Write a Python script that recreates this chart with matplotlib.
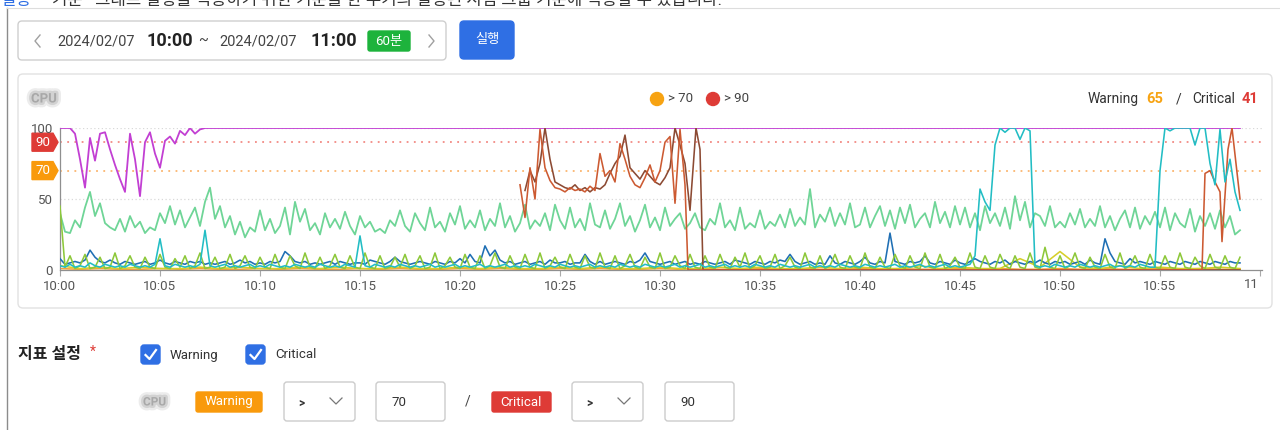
import numpy as np
import matplotlib
matplotlib.use("Agg")
import matplotlib.pyplot as plt
import matplotlib.patheffects as pe
from matplotlib.patches import FancyBboxPatch, Polygon, Circle
from matplotlib.transforms import Bbox

plt.rcParams['font.family'] = ['Roboto', 'Noto Sans CJK KR', 'DejaVu Sans']

W, H = 1280, 430

# CPU usage per host, 15 s samples starting 10:00:00
green = [
    40, 27, 26, 35, 30, 44, 55, 38,
    47, 33, 30, 28, 36, 27, 38, 30,
    34, 26, 30, 28, 40, 33, 45, 32,
    42, 30, 37, 44, 31, 48, 58, 36,
    45, 30, 38, 25, 34, 23, 30, 27,
    42, 28, 36, 26, 31, 44, 25, 48,
    34, 43, 28, 33, 25, 40, 30, 36,
    29, 41, 31, 25, 38, 30, 34, 27,
    29, 26, 35, 31, 42, 31, 27, 40,
    33, 28, 44, 30, 34, 27, 40, 32,
    45, 29, 35, 30, 42, 28, 36, 31,
    47, 30, 38, 27, 33, 46, 29, 35,
    31, 40, 28, 46, 35, 29, 44, 30,
    36, 28, 47, 32, 30, 42, 29, 36,
    47, 31, 38, 27, 35, 46, 30, 37,
    28, 44, 31, 36, 40, 29, 33, 40,
    30, 28, 36, 32, 47, 30, 35, 28,
    44, 29, 33, 30, 42, 29, 34, 31,
    39, 30, 43, 31, 37, 32, 57, 30,
    39, 34, 44, 31, 40, 32, 47, 30,
    32, 44, 30, 38, 45, 31, 42, 29,
    44, 33, 46, 30, 36, 40, 30, 48,
    33, 41, 30, 45, 32, 44, 30, 40,
    28, 45, 33, 40, 31, 44, 29, 52,
    35, 48, 30, 40, 38, 31, 45, 30,
    34, 30, 40, 32, 43, 30, 36, 31,
    45, 30, 38, 28, 36, 42, 30, 44,
    29, 38, 32, 41, 30, 44, 28, 40,
    33, 30, 43, 27, 38, 31, 40, 29,
    42, 30, 38, 25, 28,
]

blue = [
    8, 4, 5, 6, 5, 7, 14, 9,
    6, 5, 7, 5, 4, 6, 5, 4,
    5, 6, 4, 5, 7, 5, 4, 6,
    5, 4, 6, 5, 6, 4, 5, 4,
    5, 6, 4, 5, 7, 5, 6, 4,
    5, 4, 6, 5, 6, 13, 10, 6,
    5, 6, 4, 5, 4, 5, 6, 4,
    6, 5, 4, 5, 5, 4, 7, 6,
    5, 4, 6, 9, 6, 5, 4, 5,
    6, 5, 4, 6, 5, 4, 6, 5,
    8, 5, 11, 6, 5, 17, 10, 14,
    7, 5, 6, 4, 5, 6, 4, 5,
    6, 4, 7, 5, 5, 6, 4, 5,
    5, 11, 6, 4, 6, 4, 5, 6,
    5, 4, 6, 5, 7, 12, 6, 5,
    4, 5, 6, 4, 5, 6, 4, 5,
    4, 6, 5, 4, 5, 6, 4, 7,
    6, 5, 4, 6, 5, 4, 6, 5,
    7, 6, 11, 6, 4, 5, 6, 4,
    5, 4, 10, 5, 4, 6, 5, 4,
    6, 9, 5, 4, 6, 5, 26, 6,
    5, 4, 6, 5, 6, 10, 5, 4,
    6, 5, 4, 7, 5, 4, 6, 8,
    6, 5, 4, 6, 5, 7, 4, 6,
    5, 4, 6, 5, 7, 5, 4, 6,
    5, 6, 4, 5, 6, 4, 7, 5,
    4, 22, 12, 6, 5, 4, 8, 5,
    6, 5, 4, 6, 5, 4, 6, 5,
    4, 6, 5, 4, 6, 5, 4, 6,
    5, 4, 6, 5, 5,
]

lime = [
    45, 2, 10, 1, 3, 11, 1, 2,
    9, 1, 2, 12, 1, 3, 10, 2,
    1, 9, 2, 1, 11, 2, 1, 8,
    2, 10, 1, 3, 12, 1, 2, 9,
    1, 2, 11, 1, 3, 10, 2, 1,
    9, 2, 1, 11, 2, 1, 10, 3,
    1, 12, 2, 1, 9, 1, 3, 11,
    2, 1, 10, 2, 1, 12, 2, 1,
    10, 1, 2, 9, 2, 11, 1, 3,
    10, 1, 2, 12, 1, 3, 9, 2,
    1, 11, 2, 1, 10, 1, 3, 12,
    2, 1, 10, 2, 1, 11, 2, 1,
    12, 1, 3, 9, 2, 1, 11, 2,
    1, 10, 2, 1, 12, 2, 1, 10,
    1, 3, 11, 2, 1, 9, 2, 1,
    12, 1, 2, 10, 3, 1, 11, 2,
    1, 10, 2, 1, 11, 2, 1, 9,
    2, 12, 1, 3, 10, 1, 2, 11,
    1, 3, 9, 2, 1, 12, 2, 1,
    10, 1, 3, 11, 2, 1, 10, 2,
    1, 12, 2, 1, 9, 2, 1, 11,
    3, 1, 10, 2, 1, 12, 2, 1,
    11, 1, 3, 9, 2, 1, 12, 2,
    1, 10, 2, 1, 11, 3, 1, 10,
    2, 1, 12, 2, 1, 16, 2, 1,
    10, 1, 3, 12, 2, 1, 9, 2,
    1, 11, 2, 1, 12, 1, 3, 10,
    2, 1, 11, 2, 1, 10, 2, 1,
    12, 2, 1, 9, 3, 1, 11, 2,
    1, 10, 2, 1, 9,
]

teal = [
    3, 2, 4, 2, 3, 2, 5, 3,
    2, 4, 3, 2, 3, 2, 4, 3,
    2, 3, 2, 4, 22, 3, 2, 4,
    3, 2, 3, 2, 4, 28, 3, 2,
    3, 4, 2, 3, 2, 3, 4, 2,
    3, 2, 4, 3, 2, 3, 2, 4,
    3, 2, 3, 2, 4, 3, 2, 3,
    2, 4, 3, 2, 24, 3, 2, 4,
    3, 2, 3, 2, 4, 3, 2, 3,
    2, 3, 4, 2, 3, 2, 3, 4,
    2, 3, 2, 3, 4, 2, 3, 2,
    3, 4, 2, 3, 2, 3, 2, 4,
    3, 2, 3, 2, 4, 3, 2, 3,
    2, 3, 4, 2, 3, 2, 3, 2,
    4, 3, 2, 3, 2, 4, 3, 2,
    3, 2, 3, 4, 2, 3, 2, 3,
    4, 2, 3, 2, 3, 4, 2, 3,
    2, 3, 2, 4, 3, 2, 3, 2,
    4, 3, 2, 3, 2, 3, 4, 2,
    3, 2, 3, 2, 4, 3, 2, 3,
    2, 4, 3, 2, 3, 2, 3, 4,
    2, 3, 2, 3, 4, 2, 3, 2,
    3, 4, 2, 3, 2, 3, 4, 10,
    57, 48, 42, 88, 100, 97, 100, 100,
    92, 100, 98, 3, 2, 3, 2, 4,
    3, 2, 3, 2, 4, 3, 2, 3,
    2, 3, 4, 2, 3, 2, 3, 2,
    4, 3, 2, 2, 70, 100, 98, 100,
    100, 100, 100, 88, 100, 100, 75, 60,
    99, 62, 78, 55, 42,
]

# host that settles at 100 after the first minutes
purple = [
    100, 100, 100, 96, 78, 58, 93, 77,
    96, 97, 85, 74, 64, 55, 96, 78,
    52, 90, 97, 82, 72, 91, 94, 89,
    98, 95, 100, 96, 99, 100, 100, 100,
    100,
]
purple_end = 59.0

# two hosts that spike between 10:23 and 10:32 (minute, value)
brown_a_min = [23.0, 23.25, 23.5, 23.75, 24.0, 24.25, 24.5, 24.75, 25.0, 25.25,
               25.5, 25.75, 26.0, 26.25, 26.5, 26.75, 27.0, 27.25, 27.5, 27.75,
               28.0, 28.25, 28.5, 28.75, 29.0, 29.25, 29.5, 29.75, 30.0, 30.25,
               30.5, 30.75, 31.0, 31.25, 31.4, 57.1, 57.25, 57.5, 57.75, 58.0,
               58.1, 58.4, 58.6, 59.0]
brown_a = [60, 37, 72, 50, 99, 72, 63, 58, 57, 55,
           58, 56, 57, 55, 59, 56, 82, 66, 70, 62,
           89, 78, 66, 60, 58, 65, 74, 62, 70, 90,
           94, 47, 99, 60, 0, 0, 68, 70, 62, 55,
           20, 85, 100, 50]

brown_b_min = [23.25, 23.5, 23.75, 24.0, 24.25, 24.5, 24.75, 25.0, 25.25, 25.5,
               25.75, 26.0, 26.25, 26.5, 26.75, 27.0, 27.25, 27.5, 27.75, 28.0,
               28.25, 28.5, 28.75, 29.0, 29.25, 29.5, 29.75, 30.0, 30.25, 30.5,
               30.75, 31.0, 31.25, 31.5, 31.8, 32.0, 32.15, 59.0]
brown_b = [56, 70, 62, 75, 100, 78, 62, 60, 58, 57,
           60, 56, 58, 55, 58, 57, 60, 68, 75, 80,
           95, 72, 68, 64, 70, 66, 62, 60, 65, 72,
           100, 88, 75, 42, 100, 85, 0, 0]

# low-usage hosts, 1 min samples
yellow = [3, 1, 2, 1, 2, 1, 1, 2, 1, 2, 1, 1, 2, 1, 2, 1, 1, 2, 1, 1,
          2, 1, 2, 1, 1, 2, 1, 2, 1, 1, 2, 1, 1, 2, 1, 2, 1, 1, 2, 1,
          2, 1, 1, 3, 1, 2, 1, 1, 8, 2, 13, 2, 1, 3, 1, 2, 1, 1, 2, 1]
orange = [1, 0.5, 1, 0.5, 0.5, 1, 0.5, 1, 0.5, 0.5, 1, 0.5, 1, 0.5, 0.5, 1,
          0.5, 1, 0.5, 0.5, 1, 0.5, 1, 0.5, 0.5, 1, 0.5, 1, 0.5, 0.5, 1, 0.5,
          1, 0.5, 0.5, 1, 0.5, 1, 0.5, 0.5, 1, 0.5, 1, 0.5, 0.5, 1, 0.5, 1,
          0.5, 0.5, 1, 0.5, 1, 0.5, 0.5, 1, 0.5, 1, 0.5, 0.5]

warn_level, crit_level = 70, 90
warn_count, crit_count = 65, 41
tick_min = list(range(0, 61, 5))
tick_lbl = ["10:%02d" % m for m in tick_min[:-1]] + ["11:00"]

C_BLUE = "#2f6fe4"
C_WARN = "#f99a0c"
C_CRIT = "#de3b36"

fig = plt.figure(figsize=(12.8, 4.3), dpi=100)
ui = fig.add_axes([0, 0, 1, 1])
ui.set_xlim(0, W)
ui.set_ylim(H, 0)
ui.axis('off')


def rbox(x, y, w, h, fc="white", ec="#d0d0d0", r=4, lw=1.0, z=1):
    ui.add_patch(FancyBboxPatch((x, y), w, h, boxstyle=f"round,pad=0,rounding_size={r}",
                                fc=fc, ec=ec, lw=lw, zorder=z))


def masked(x, y, s, size=10):
    # host name is smudged out: pale word inside a soft grey halo
    ui.text(x, y, s, fontsize=size, color="#a8a8a8", va='center', ha='left',
            fontweight='bold',
            path_effects=[pe.withStroke(linewidth=7, foreground="#ececec"),
                          pe.withStroke(linewidth=3.5, foreground="#d2d2d2")])


# page frame and cut-off help line
ui.plot([7, 7], [8, H], color="#8c8c8c", lw=1.0)
ui.plot([7, W], [8, 8], color="#dddddd", lw=0.8)
ui.text(0, 5, "설정", color=C_BLUE, fontsize=12, va='baseline')
ui.text(52, 5, "기준   그래프 설정을 적용하기 위한 기준을 한 주기의 설정된 시점 그룹 기준에 적용할 수 있습니다.",
        color="#333333", fontsize=12, va='baseline')

# time range picker
rbox(18, 21, 428, 39, ec="#cfcfcf")
ui.plot([40, 35, 40], [35, 41, 47], color="#a0a0a0", lw=1.0)
ui.plot([429, 434, 429], [35, 41, 47], color="#a0a0a0", lw=1.0)
ui.text(57, 41, "2024/02/07", fontsize=10.5, color="#444444", va='center')
ui.text(147, 41, "10:00", fontsize=13, color="#222222", va='center', fontweight='bold')
ui.text(198, 41, "~", fontsize=10.5, color="#444444", va='center')
ui.text(219, 41, "2024/02/07", fontsize=10.5, color="#444444", va='center')
ui.text(310, 41, "11:00", fontsize=13, color="#222222", va='center', fontweight='bold')
rbox(368, 31, 42, 20, fc="#1db33c", ec="#1db33c", r=2)
ui.text(389, 41, "60분", fontsize=9.5, color="white", va='center', ha='center')
rbox(460, 21, 54, 38, fc=C_BLUE, ec=C_BLUE, r=4)
ui.text(487, 40, "실행", fontsize=9.5, color="white", va='center', ha='center')

# chart card
rbox(18, 74, 1254, 234, ec="#e2e2e2", r=5)
masked(31, 99, "CPU", 9.5)
ui.add_patch(Circle((657, 99), 6.5, color="#f7a312", zorder=3))
ui.text(668, 99, "> 70", fontsize=9.5, color="#444444", va='center')
ui.add_patch(Circle((713, 99), 6.5, color=C_CRIT, zorder=3))
ui.text(724, 99, "> 90", fontsize=9.5, color="#444444", va='center')
ui.text(1088, 99, "Warning", fontsize=10, color="#333333", va='center')
ui.text(1146, 99, str(warn_count), fontsize=10.5, color="#f7a312", va='center', fontweight='bold')
ui.text(1176, 99, "/", fontsize=10, color="#333333", va='center')
ui.text(1192, 99, "Critical", fontsize=10, color="#333333", va='center')
ui.text(1242, 99, str(crit_count), fontsize=10.5, color=C_CRIT, va='center', fontweight='bold')

ax = fig.add_axes([60 / W, 160 / H, 1202 / W, 142 / H], zorder=2)
ax.patch.set_alpha(0)
ax.set_xlim(0, 60.1)
ax.set_ylim(0, 100)

for v in (50, 100):
    ax.axhline(v, color="#d9d9d9", lw=0.9, ls=(0, (1, 2)), zorder=1)
ax.axhline(crit_level, color="#f28a84", lw=1.3, ls=(0, (1, 3)), zorder=1)
ax.axhline(warn_level, color="#fbb56e", lw=1.3, ls=(0, (1, 3)), zorder=1)

lw = 1.15
ax.plot(np.arange(len(green)) * 0.25, green, color="#6fd597", lw=1.3, zorder=2)
ax.plot(np.arange(len(orange)) * 1.0, orange, color="#f2a33a", lw=lw, zorder=2)
ax.plot(np.arange(len(yellow)) * 1.0, yellow, color="#d6cf2a", lw=lw, zorder=2)
ax.plot(np.arange(len(blue)) * 0.25, blue, color="#1f6fb4", lw=lw, zorder=3)
ax.plot(np.arange(len(lime)) * 0.25, lime, color="#8dc83a", lw=lw, zorder=3)
ax.plot(list(np.arange(len(purple)) * 0.25) + [purple_end], purple + [100],
        color="#c23fd3", lw=1.3, zorder=3)
ax.plot(brown_b_min, brown_b, color="#8c4a33", lw=lw, zorder=4)
ax.plot(brown_a_min, brown_a, color="#cc5a32", lw=lw, zorder=4)
ax.plot(np.arange(len(teal)) * 0.25, teal, color="#22bdc4", lw=lw, zorder=4)

for s in ('top', 'right'):
    ax.spines[s].set_visible(False)
for s in ('left', 'bottom'):
    ax.spines[s].set_color("#8f8f8f")
    ax.spines[s].set_linewidth(0.9)
ax.set_xticks(tick_min)
ax.set_xticklabels(tick_lbl[:-1] + [""])
ax.tick_params(axis='x', length=4, color="#aaaaaa", labelsize=9.5, labelcolor="#555555", pad=3)
ax.set_yticks([0, 50, 100])
ax.tick_params(axis='y', length=0, labelsize=9.5, labelcolor="#555555", pad=5)

# last tick label runs under the card edge
x_end = W - ax.transData.transform((tick_min[-1], 0))[0]
last = ui.text(W - x_end, 284, tick_lbl[-1], fontsize=9.5, color="#555555",
               ha='center', va='center', clip_on=True)
last.set_clip_box(Bbox.from_extents(0, 0, 1258, H))

# threshold tags on the y axis
for lvl, col in ((crit_level, C_CRIT), (warn_level, C_WARN)):
    yc = H - ax.transData.transform((0, lvl))[1]
    ui.add_patch(Polygon([(32, yc - 9), (53, yc - 9), (58, yc), (53, yc + 9), (32, yc + 9)],
                         closed=True, fc=col, ec=col, zorder=5))
    ui.text(43, yc, str(lvl), fontsize=9.5, color="white", ha='center', va='center', zorder=6)

# threshold settings form
ui.text(18, 354, "지표 설정", fontsize=11.5, color="#222222", va='center', fontweight='bold')
ui.text(90, 352, "*", fontsize=10, color=C_CRIT, va='center')
for bx, lbl in ((141, "Warning"), (246, "Critical")):
    rbox(bx, 345, 19, 19, fc=C_BLUE, ec=C_BLUE, r=3)
    ui.plot([bx + 4.5, bx + 8.5, bx + 15], [355, 359, 350], color="white", lw=1.6)
    ui.text(bx + 29, 355, lbl, fontsize=9.5, color="#333333", va='center')

masked(143, 402, "CPU", 8.5)
rbox(196, 392, 66, 20, fc=C_WARN, ec=C_WARN, r=2)
ui.text(229, 402, "Warning", fontsize=9.5, color="white", ha='center', va='center')
rbox(492, 392, 59, 20, fc=C_CRIT, ec=C_CRIT, r=2)
ui.text(521, 402, "Critical", fontsize=9.5, color="white", ha='center', va='center')
for sx in (284, 572):
    rbox(sx, 382, 71, 39, ec="#cccccc", r=3)
    ui.text(sx + 14, 403, ">", fontsize=8.5, color="#333333", va='center', fontweight='bold')
    ui.plot([sx + 46, sx + 52, sx + 58], [398, 404, 398], color="#777777", lw=0.9)
for ix, val in ((376, warn_level), (665, crit_level)):
    rbox(ix, 382, 69, 39, ec="#cccccc", r=3)
    ui.text(ix + 15, 402, str(val), fontsize=9.5, color="#333333", va='center')
ui.text(468, 402, "/", fontsize=10, color="#444444", ha='center', va='center')

fig.savefig("out.png", dpi=100)
